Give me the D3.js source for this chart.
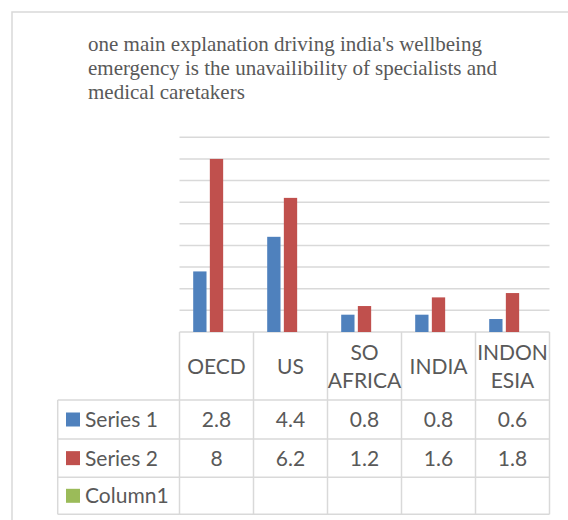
<!DOCTYPE html>
<html lang="en">
<head>
    <meta charset="UTF-8">
    <title>one main explanation driving india's wellbeing emergency</title>
    <script src="https://d3js.org/d3.v7.min.js"></script>
    <style>
        body { margin: 0; background: #fff; }
        .title { font-family: "Liberation Serif", serif; font-size: 21px; fill: #595959; }
        .cell { font-family: Lato, "Open Sans", sans-serif; font-size: 21px; fill: #595959; }
        .grid line { stroke: #d9d9d9; stroke-width: 1.5px; }
    </style>
</head>
<body>
    <svg width="568" height="520"></svg>

    <script>
        // chart data
        const titleLines = [
            "one main explanation driving india's wellbeing",
            "emergency is the unavailibility of specialists and",
            "medical caretakers"
        ];
        const categories = ["OECD", "US", "SO AFRICA", "INDIA", "INDONESIA"];
        const categoryLines = [["OECD"], ["US"], ["SO", "AFRICA"], ["INDIA"], ["INDON", "ESIA"]];
        const seriesNames = ["Series 1", "Series 2", "Column1"];
        const series1 = [2.8, 4.4, 0.8, 0.8, 0.6];
        const series2 = [8, 6.2, 1.2, 1.6, 1.8];
        const column1 = [null, null, null, null, null];
        const yTicks = [0, 1, 2, 3, 4, 5, 6, 7, 8, 9];

        const colors = { "Series 1": "#4f81bd", "Series 2": "#c0504d", "Column1": "#9bbb59" };
        const seriesValues = { "Series 1": series1, "Series 2": series2, "Column1": column1 };

        const svg = d3.select("svg");
        const gridColor = "#d9d9d9";

        // outer chart border (runs off the right and bottom edges)
        svg.append("rect")
            .attr("x", 12).attr("y", 12)
            .attr("width", 600).attr("height", 560)
            .attr("fill", "none")
            .attr("stroke", gridColor)
            .attr("stroke-width", 1.5);

        // title
        svg.append("g").selectAll("text")
            .data(titleLines)
            .enter().append("text")
            .attr("class", "title")
            .attr("x", 88)
            .attr("y", (d, i) => 51 + i * 24)
            .text(d => d);

        const plotLeft = 179.5, plotRight = 549.5;
        const y = d3.scaleLinear().domain([0, 9]).range([332, 137.3]);
        const x0 = d3.scaleBand().domain(categories).range([plotLeft, plotRight]);
        const gap = 13.7;
        const x1 = d3.scaleBand().domain(seriesNames)
            .range([gap, x0.bandwidth() - gap])
            .paddingInner(0.2);

        // horizontal gridlines
        svg.append("g").attr("class", "grid")
            .selectAll("line")
            .data(yTicks)
            .enter().append("line")
            .attr("x1", plotLeft).attr("x2", plotRight)
            .attr("y1", d => y(d)).attr("y2", d => y(d));

        // bars
        const groups = svg.append("g").selectAll("g")
            .data(categories)
            .enter().append("g")
            .attr("transform", d => `translate(${x0(d)},0)`);

        groups.selectAll("rect")
            .data((c, ci) => seriesNames.map(s => ({ s, v: seriesValues[s][ci] })).filter(d => d.v != null))
            .enter().append("rect")
            .attr("x", d => x1(d.s))
            .attr("width", x1.bandwidth())
            .attr("y", d => y(d.v))
            .attr("height", d => y(0) - y(d.v))
            .attr("fill", d => colors[d.s]);

        // data table
        const headerTop = y(0), headerBottom = 400;
        const rowBottoms = [439, 477.3, 514.3];
        const legendLeft = 57.7;
        const table = svg.append("g").attr("class", "grid");

        // horizontal rules
        table.selectAll("line.h")
            .data(rowBottoms.concat([headerBottom]))
            .enter().append("line")
            .attr("x1", legendLeft).attr("x2", plotRight)
            .attr("y1", d => d).attr("y2", d => d);

        // vertical rules
        const colEdges = categories.map(c => x0(c)).concat([plotRight]);
        table.selectAll("line.v")
            .data(colEdges)
            .enter().append("line")
            .attr("x1", d => d).attr("x2", d => d)
            .attr("y1", headerTop).attr("y2", rowBottoms[2]);
        table.append("line")
            .attr("x1", legendLeft).attr("x2", legendLeft)
            .attr("y1", headerBottom).attr("y2", rowBottoms[2]);

        // category header labels
        const headerMid = (headerTop + headerBottom) / 2;
        const lineGap = 28;
        categories.forEach((c, i) => {
            const lines = categoryLines[i];
            const start = headerMid - (lines.length - 1) * lineGap / 2;
            lines.forEach((t, j) => {
                svg.append("text")
                    .attr("class", "cell")
                    .attr("x", x0(c) + x0.bandwidth() / 2)
                    .attr("y", start + j * lineGap)
                    .attr("dy", "0.36em")
                    .attr("text-anchor", "middle")
                    .text(t);
            });
        });

        // series rows
        const rowTops = [headerBottom, rowBottoms[0], rowBottoms[1]];
        seriesNames.forEach((s, r) => {
            const mid = (rowTops[r] + rowBottoms[r]) / 2;
            svg.append("rect")
                .attr("x", 66).attr("y", mid - 7)
                .attr("width", 14).attr("height", 14)
                .attr("fill", colors[s]);
            svg.append("text")
                .attr("class", "cell")
                .attr("x", 85).attr("y", mid)
                .attr("dy", "0.36em")
                .text(s);
            categories.forEach((c, i) => {
                const v = seriesValues[s][i];
                if (v == null) return;
                svg.append("text")
                    .attr("class", "cell")
                    .attr("x", x0(c) + x0.bandwidth() / 2)
                    .attr("y", mid)
                    .attr("dy", "0.36em")
                    .attr("text-anchor", "middle")
                    .text(v);
            });
        });
    </script>
</body>
</html>
